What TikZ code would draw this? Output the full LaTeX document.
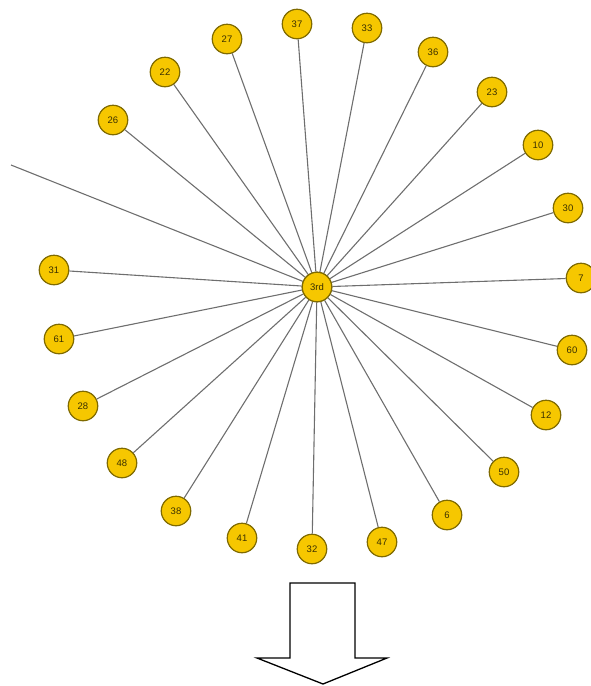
\documentclass[tikz,border=0pt]{standalone}
\usepackage{fontspec}
\setmainfont{Liberation Sans}
\definecolor{nodefill}{HTML}{F6C700}
\definecolor{nodeline}{HTML}{7F6A00}
\definecolor{edgecol}{HTML}{6E6E6E}
\definecolor{txtcol}{HTML}{3A3000}
\tikzset{
  vtx/.style={circle, draw=nodeline, fill=nodefill, line width=1.2pt, minimum size=29.5pt, inner sep=0pt, font=\fontsize{9.5}{10}\selectfont, text=txtcol},
  edge/.style={draw=edgecol, line width=1.1pt},
  bigarrow/.style={draw=black, line width=1.3pt, fill=white, line join=miter}
}
\begin{document}
\begin{tikzpicture}[x=1pt,y=-1pt]
\useasboundingbox (0,0) rectangle (590,686);
\node[vtx] (c) at (317,287) {3rd};
\foreach \lab/\px/\py in {22/165/72, 27/227/39, 37/297/24, 33/367/28, 36/433/52, 23/492/92, 10/538/145, 30/568/208, 7/581/278, 60/572/350, 12/546/415, 50/504/472, 6/447/515, 47/382/542, 32/312/549, 41/242/538, 38/176/511, 48/122/463, 28/83/406, 61/59/339, 31/54/270, 26/113/120}{
  \node[vtx] (n\lab) at (\px,\py) {\lab};
  \draw[edge] (c) -- (n\lab);
}
\coordinate (off) at (11,165);
\draw[edge] (c) -- (off);
\node[vtx] at (c) {3rd};
\draw[bigarrow] (290,583) coordinate (a1) -- (355,583) -- (355,658) -- (387,658) -- (323,684) -- (257,658) -- (290,658) -- cycle;
\end{tikzpicture}
\end{document}
